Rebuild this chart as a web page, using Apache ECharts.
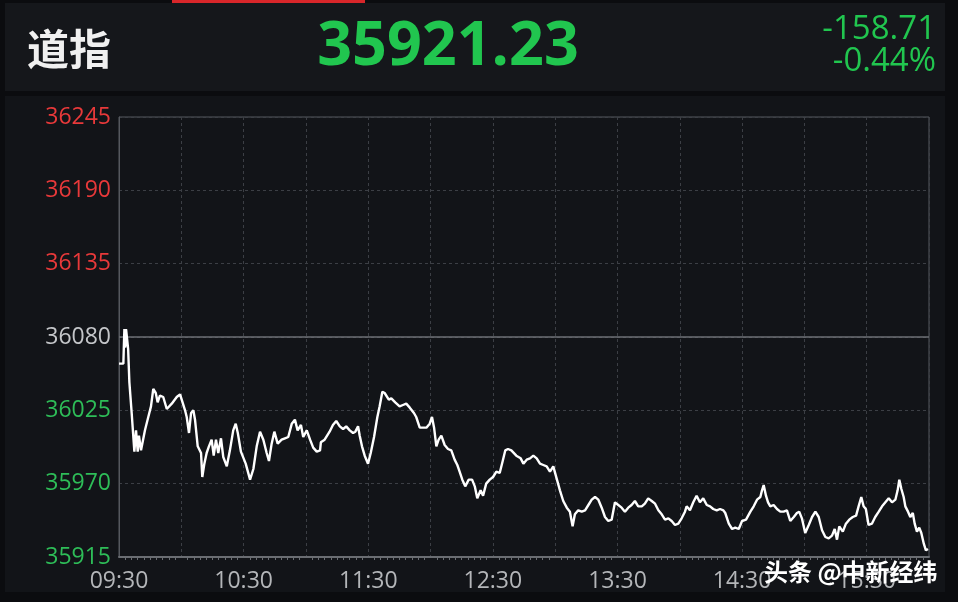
<!DOCTYPE html>
<html><head><meta charset="utf-8">
<script src="https://cdn.jsdelivr.net/npm/echarts@6/dist/echarts.min.js"></script>
<style>html,body{margin:0;padding:0;background:#000;}#c{width:958px;height:602px;}</style>
</head><body><div id="c"></div>
<script>
const title = '道指';
const lastPrice = '35921.23';
const change = '-158.71';
const changePct = '-0.44%';
const prevClose = 36080;
const yTicks = [35915, 35970, 36025, 36080, 36135, 36190, 36245];
const xTickLabels = ['09:30','10:30','11:30','12:30','13:30','14:30','15:30'];
// minutes after 09:30
const mins = [0,2.1,2.3,2.6,3.0,3.4,4.0,4.4,5.0,6.1,7.4,8.2,9.0,9.6,10.6,12.5,14.1,15.4,16.5,17.7,18.6,19.7,21.3,23.0,25.4,27.8,29.4,30.2,31.8,32.6,33.7,34.7,35.8,36.6,37.9,39.5,40.1,41.1,42.2,43.3,44.6,45.6,46.7,47.8,49.1,50.2,51.9,53.4,55.0,56.2,57.2,58.7,61.0,63.1,64.7,66.3,67.9,69.5,71.1,72.2,73.5,74.8,76.4,78.3,79.9,81.5,83.2,84.7,86.0,87.6,88.7,90.4,92.0,93.5,95.2,96.8,97.2,99.0,101.4,103.0,104.6,106.3,107.9,109.4,111.1,112.7,113.8,115.1,115.9,117.0,118.3,119.9,121.2,122.8,124.4,125.5,126.8,127.9,128.7,129.9,131.1,133.0,135.1,136.7,138.3,140.0,142.0,143.1,144.8,146.4,148.0,149.6,150.7,151.7,152.8,153.9,155.2,156.8,158.4,160.0,161.6,162.9,164.0,165.3,166.7,168.4,170.0,171.3,172.5,174.1,175.3,176.8,178.5,180.1,181.7,183.3,184.9,186.0,187.3,188.9,191.3,193.4,194.7,196.3,197.9,199.5,201.1,202.7,204.3,205.9,207.5,209.1,210.7,212.3,213.9,215.6,217.1,218.4,219.5,221.1,222.8,224.4,226.0,227.6,229.2,230.8,232.4,234.0,235.6,237.2,238.8,240.4,242.0,243.6,245.2,246.8,248.4,250.0,251.7,253.2,254.8,256.5,258.1,259.7,261.3,262.9,264.5,266.1,267.7,269.3,270.9,272.5,273.3,274.9,276.5,278.1,279.7,281.3,283.0,284.6,286.1,287.8,289.4,291.0,291.9,293.6,295.2,296.7,298.4,300.0,301.9,304.0,305.6,307.2,308.8,309.6,310.4,311.5,312.5,313.6,315.2,316.8,318.4,320.0,321.6,323.2,324.9,326.4,327.5,328.8,330.4,332.1,333.7,335.3,336.9,338.5,340.1,341.7,343.3,344.6,345.7,346.8,348.5,350.0,351.6,353.3,354.9,356.1,357.4,358.5,359.6,360.9,362.5,364.1,365.8,367.4,369.0,370.6,372.2,373.8,374.9,375.7,376.7,377.8,378.6,379.9,381.0,382.2,383.1,384.2,385.3,386.3,387.5,388.5,389.5];
const vals = [36060,36060,36071,36086,36072,36086,36086,36071,36046,36023,35994,36010,35994,36006,35995,36010,36020,36028,36041,36038,36031,36036,36035,36026,36030,36035,36037,36036,36025,36020,36008,36023,36025,36018,35998,35993,35975,35985,35993,35998,36003,35991,36003,35993,36004,35990,35983,35995,36010,36015,36008,35994,35985,35973,35981,35998,36009,36003,35993,35987,36000,36009,36000,36003,36004,36005,36015,36018,36010,36014,36005,36010,36003,35997,35994,35995,36001,36003,36009,36014,36017,36013,36011,36013,36010,36008,36009,36013,36006,35998,35991,35985,35993,36005,36020,36028,36039,36038,36039,36033,36034,36031,36028,36029,36030,36027,36023,36020,36012,36012,36012,36015,36020,36012,35998,36003,36006,35999,35996,35995,35988,35984,35979,35973,35968,35973,35973,35968,35959,35965,35961,35970,35973,35975,35979,35978,35988,35995,35996,35995,35991,35989,35985,35988,35989,35991,35989,35985,35984,35983,35979,35983,35974,35965,35957,35952,35949,35938,35947,35950,35949,35950,35954,35958,35960,35958,35952,35945,35942,35943,35956,35954,35952,35949,35952,35954,35957,35953,35953,35955,35959,35957,35955,35950,35947,35943,35944,35942,35939,35940,35944,35949,35953,35950,35956,35961,35956,35959,35954,35953,35951,35950,35951,35950,35948,35940,35936,35937,35936,35942,35943,35949,35953,35958,35960,35965,35969,35961,35956,35953,35954,35951,35949,35949,35950,35942,35945,35948,35949,35944,35933,35939,35945,35949,35945,35935,35930,35929,35931,35936,35928,35938,35934,35940,35943,35945,35946,35953,35960,35953,35951,35939,35940,35945,35949,35953,35956,35959,35956,35958,35965,35973,35966,35960,35953,35949,35945,35948,35940,35934,35937,35933,35925,35920,35921];

const seriesData = mins.map((m, i) => [m, vals[i]]);
const chart = echarts.init(document.getElementById('c'));
const green = '#21c64f';
const numFont = '"Open Sans", "Noto Sans"';
chart.setOption({
  animation: false,
  backgroundColor: '#0b0c0f',
  grid: { left: 119, right: 29, top: 117, bottom: 45, show: true, backgroundColor: '#121418', borderColor: '#55585e', borderWidth: 1 },
  graphic: [
    { type: 'rect', shape: { x: 5, y: 3, width: 940, height: 88 }, style: { fill: '#15171b' }, z: -10 },
    { type: 'rect', shape: { x: 5, y: 96, width: 940, height: 496 }, style: { fill: '#121418' }, z: -10 },
    { type: 'rect', shape: { x: 172, y: 0, width: 193, height: 3 }, style: { fill: '#d8262a' } },
    { type: 'text', x: 27, y: 49, style: { text: title, fill: '#f0f0f0', font: 'bold 42px "Noto Sans CJK SC"', verticalAlign: 'middle' } },
    { type: 'text', x: 448, y: 48, style: { text: lastPrice, fill: green, font: 'bold 61px ' + numFont, align: 'center', verticalAlign: 'middle' } },
    { type: 'text', x: 936, y: 30, style: { text: change, fill: green, font: '33px ' + numFont, align: 'right', verticalAlign: 'middle' } },
    { type: 'text', x: 936, y: 62, style: { text: changePct, fill: green, font: '33px ' + numFont, align: 'right', verticalAlign: 'middle' } },
    { type: 'text', x: 764, y: 572, z: 100, style: { text: '头条 @中新经纬', fill: '#ffffff', font: 'bold 24px "Noto Sans CJK SC"', verticalAlign: 'middle', shadowBlur: 3, shadowColor: 'rgba(0,0,0,0.9)', shadowOffsetX: 1, shadowOffsetY: 1 } }
  ],
  xAxis: {
    type: 'value', min: 0, max: 390, interval: 30,
    axisLine: { show: true, lineStyle: { color: '#6a6d72', width: 2 } },
    axisTick: { show: false },
    minorTick: { show: true, splitNumber: 10, length: 3, lineStyle: { color: '#6a6d72' } },
    axisLabel: {
      color: '#b4b6b9', fontSize: 23, fontFamily: numFont, margin: 13,
      formatter: v => (v % 60 === 0 ? xTickLabels[v / 60] : '')
    },
    splitLine: { show: true, lineStyle: { color: '#3c3f45', type: [3, 3], width: 1 } }
  },
  yAxis: {
    type: 'value', min: yTicks[0], max: yTicks[yTicks.length - 1], interval: 55,
    axisLine: { show: true, lineStyle: { color: '#55585e' } },
    axisTick: { show: false },
    axisLabel: {
      fontSize: 23, fontFamily: numFont, margin: 8,
      formatter: v => String(v),
      color: v => (v > prevClose ? '#e8393a' : (v < prevClose ? '#2ebd58' : '#c4c6c9'))
    },
    splitLine: { show: true, lineStyle: { color: '#3c3f45', type: [3, 3], width: 1 } }
  },
  series: [{
    type: 'line', data: seriesData, showSymbol: false, symbol: 'none',
    lineStyle: { color: '#ffffff', width: 2.4 },
    markLine: { silent: true, symbol: 'none', label: { show: false },
      lineStyle: { color: '#6c6f74', type: 'solid', width: 1.5 },
      data: [{ yAxis: prevClose }] },
    z: 5
  }]
});
</script></body></html>
